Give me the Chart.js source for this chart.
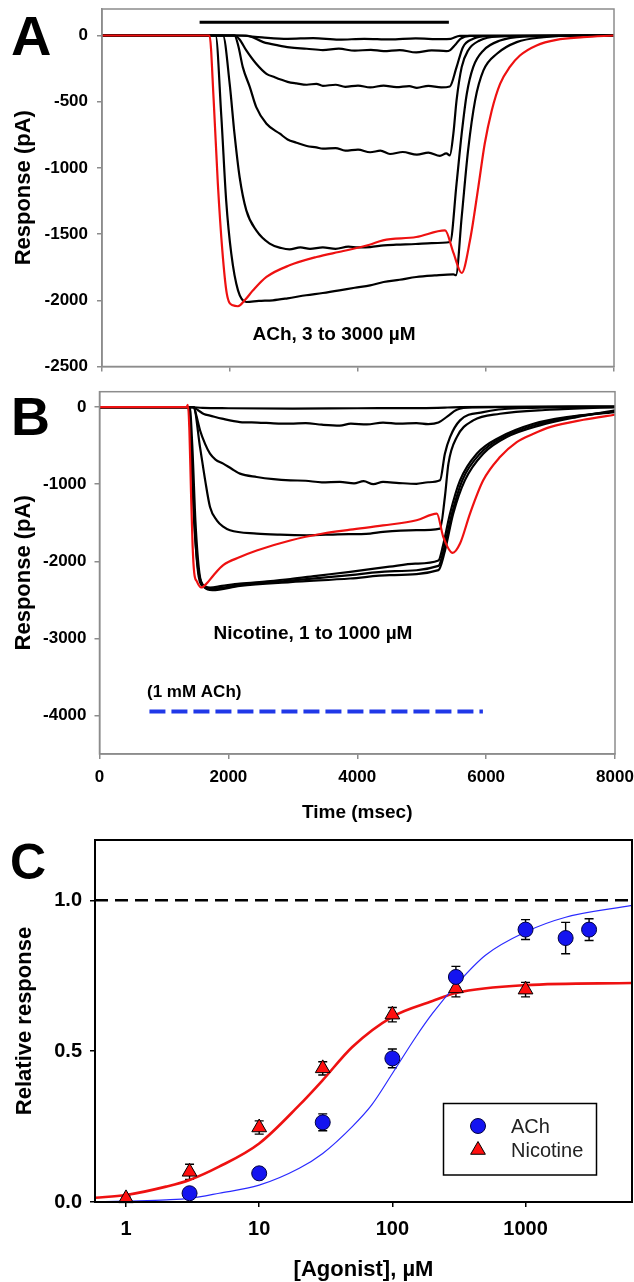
<!DOCTYPE html>
<html>
<head>
<meta charset="utf-8">
<script src="https://cdn.jsdelivr.net/npm/chart.js@4.4.0/dist/chart.umd.min.js"></script>
<style>
  html, body { margin: 0; padding: 0; background: #fff; }
  #page { position: relative; width: 634px; height: 1282px; overflow: hidden; }
  canvas { position: absolute; left: 0; }
</style>
</head>
<body>
<div id="page">
  <canvas id="chartA" width="634" height="380" style="top:0px"></canvas>
  <canvas id="chartB" width="634" height="450" style="top:380px"></canvas>
  <canvas id="chartC" width="634" height="452" style="top:830px"></canvas>
</div>
<script>
/* ---------- data ---------- */

// shared time axis (msec)
const timeTicks = [0, 2000, 4000, 6000, 8000];

// Panel A: ACh 3 to 3000 uM, traces as [msec, pA]
const aYTicks = [0, -500, -1000, -1500, -2000, -2500];
const aBar = [[1525, 100], [5420, 100]];
const aTrace3 = [[0,0],[2100,0],[2500,-15],[2900,-25],[3300,-20],[3700,-32],[4100,-25],[4500,-30],[4900,-22],[5300,-28],[5450,-25],[5590,-3],[8000,0]];
const aTrace10 = [[0,0],[2250,0],[2520,-50],[2750,-75],[2930,-90],[3200,-100],[3450,-110],[3700,-100],[3950,-115],[4200,-108],[4400,-118],[4650,-110],[4910,-128],[5150,-112],[5380,-118],[5440,-110],[5520,-70],[5600,-25],[5750,-3],[8000,0]];
const aTrace30 = [[0,0],[2070,0],[2150,-30],[2255,-113],[2410,-214],[2570,-290],[2700,-315],[2780,-330],[2900,-350],[3040,-362],[3200,-372],[3350,-365],[3450,-380],[3650,-372],[3800,-388],[4000,-378],[4190,-392],[4400,-378],[4600,-390],[4800,-382],[4920,-395],[5100,-380],[5300,-392],[5435,-385],[5540,-239],[5640,-88],[5800,-25],[6000,-5],[8000,0]];
const aTrace100 = [[0,0],[2070,0],[2130,-80],[2200,-239],[2310,-390],[2410,-541],[2570,-667],[2780,-742],[2900,-785],[3040,-810],[3200,-835],[3350,-845],[3450,-855],[3650,-850],[3800,-870],[4000,-862],[4190,-882],[4350,-870],[4500,-895],[4700,-880],[4920,-900],[5100,-885],[5280,-910],[5380,-890],[5435,-906],[5490,-742],[5540,-490],[5620,-239],[5720,-113],[5900,-38],[6170,-8],[8000,0]];
const aTrace300 = [[0,0],[1890,0],[1995,-365],[2070,-742],[2150,-1069],[2255,-1321],[2410,-1472],[2620,-1572],[2800,-1605],[2930,-1615],[3100,-1600],[3250,-1612],[3450,-1600],[3650,-1612],[3850,-1595],[4000,-1600],[4190,-1598],[4400,-1585],[4600,-1580],[4900,-1575],[5150,-1568],[5440,-1560],[5540,-1119],[5620,-742],[5700,-440],[5800,-239],[5960,-113],[6220,-38],[6580,-8],[8000,0]];
const aTrace1000 = [[0,0],[1775,0],[1865,-616],[1940,-1245],[2020,-1648],[2125,-1925],[2255,-2013],[2450,-2005],[2670,-2000],[2900,-1985],[3190,-1962],[3450,-1945],[3710,-1925],[3950,-1905],[4190,-1887],[4400,-1862],[4650,-1845],[4910,-1824],[5200,-1812],[5490,-1804],[5530,-1811],[5620,-1371],[5720,-868],[5830,-490],[5960,-264],[6170,-138],[6480,-50],[6900,-13],[7400,0],[8000,0]];
const aTrace3000 = [[0,0],[1680,0],[1745,-490],[1810,-1119],[1880,-1623],[1950,-1950],[2045,-2038],[2125,-2045],[2230,-2000],[2360,-1925],[2570,-1824],[2930,-1736],[3350,-1673],[3770,-1628],[4180,-1580],[4390,-1547],[4910,-1522],[5360,-1472],[5490,-1640],[5620,-1794],[5750,-1547],[5880,-1145],[5980,-818],[6090,-566],[6220,-365],[6370,-239],[6530,-151],[6790,-75],[7100,-33],[7520,-13],[8000,0]];

// Panel B: nicotine 1 to 1000 uM
const bYTicks = [0, -1000, -2000, -3000, -4000];
const bAchBar = [[775, -3950], [5950, -3950]];
const bTrace1 = [[0,0],[1400,0],[1600,-10],[2000,-15],[3000,-20],[4000,-15],[5000,-12],[5400,-5],[5600,0],[8000,10]];
const bTrace3 = [[0,0],[1450,0],[1530,-40],[1620,-90],[1715,-110],[1900,-150],[2180,-194],[2450,-200],[2700,-210],[2960,-215],[3200,-208],[3450,-228],[3730,-240],[3900,-215],[4150,-225],[4400,-200],[4650,-215],[4920,-207],[5100,-220],[5260,-200],[5400,-120],[5545,-34],[5800,-5],[8000,5]];
const bTrace10 = [[0,0],[1460,0],[1500,-100],[1560,-300],[1640,-480],[1715,-604],[1800,-680],[1920,-733],[2050,-800],[2180,-863],[2440,-907],[2700,-935],[2960,-950],[3200,-955],[3450,-975],[3730,-970],[3950,-990],[4100,-960],[4250,-1000],[4400,-971],[4650,-985],[4920,-995],[5100,-975],[5285,-950],[5360,-604],[5440,-389],[5595,-172],[5955,-65],[6500,-15],[8000,0]];
const bTrace30 = [[0,0],[1460,0],[1560,-518],[1640,-950],[1715,-1295],[1820,-1468],[1920,-1550],[2025,-1597],[2440,-1640],[2800,-1655],[3215,-1662],[3700,-1650],[4200,-1640],[4400,-1619],[4920,-1597],[5285,-1576],[5360,-1166],[5415,-733],[5545,-389],[5800,-172],[6215,-86],[6990,-34],[8000,0]];
const bTrace100 = [[0,0],[1380,0],[1420,-500],[1470,-1500],[1530,-2100],[1600,-2300],[1715,-2340],[1900,-2320],[2180,-2290],[2600,-2260],[2960,-2230],[3400,-2185],[3890,-2137],[4500,-2070],[4900,-2030],[5260,-1990],[5330,-1800],[5440,-1381],[5595,-950],[5855,-604],[6215,-389],[6735,-215],[7250,-130],[8000,-65]];
const bTrace300 = [[0,0],[1400,0],[1440,-500],[1490,-1500],[1550,-2150],[1630,-2340],[1750,-2375],[2180,-2320],[2960,-2270],[3890,-2223],[4500,-2180],[5260,-2115],[5350,-1900],[5490,-1381],[5670,-950],[5955,-604],[6320,-389],[6835,-237],[7405,-130],[8000,-43]];
const bTrace1000 = [[0,0],[1390,0],[1430,-600],[1480,-1600],[1540,-2200],[1620,-2330],[1750,-2355],[2180,-2305],[2960,-2250],[3890,-2180],[4500,-2130],[5260,-2060],[5340,-1860],[5470,-1381],[5630,-950],[5905,-604],[6265,-389],[6785,-226],[7330,-130],[8000,-55]];
const bTraceRed = [[0,0],[1350,0],[1372,30],[1395,-300],[1420,-1100],[1445,-1800],[1470,-2150],[1510,-2260],[1580,-2340],[1660,-2290],[1770,-2180],[1920,-2050],[2180,-1945],[2440,-1860],[2960,-1730],[3470,-1640],[3890,-1590],[4400,-1535],[4920,-1468],[5235,-1381],[5335,-1684],[5480,-1891],[5595,-1770],[5750,-1381],[5955,-950],[6215,-648],[6475,-453],[6735,-345],[6990,-259],[7510,-164],[8000,-99]];

// Panel C: concentration-response
const cXTicks = [1, 10, 100, 1000];
const cYTicks = [0, 0.5, 1.0];
const achConc = [3, 10, 30, 100, 300, 1000, 2000, 3000];
const achResp = [0.029, 0.095, 0.264, 0.476, 0.746, 0.903, 0.875, 0.903];
const achErr  = [0.010, 0.012, 0.028, 0.031, 0.035, 0.033, 0.052, 0.036];
const nicConc = [1, 3, 10, 30, 100, 300, 1000];
const nicResp = [0.012, 0.100, 0.247, 0.443, 0.621, 0.708, 0.704];
const nicErr  = [0.008, 0.025, 0.022, 0.022, 0.024, 0.028, 0.024];
const achFit = [[0.585,0.0],[1,0.003],[2,0.007],[3,0.012],[5,0.029],[10,0.056],[20,0.112],[30,0.161],[50,0.25],[70,0.322],[100,0.426],[150,0.547],[200,0.625],[300,0.719],[500,0.818],[1000,0.895],[2000,0.944],[6300,0.983]];
const nicFit = [[0.585,0.014],[1,0.023],[2,0.051],[3,0.073],[5,0.117],[10,0.194],[20,0.321],[30,0.404],[50,0.514],[100,0.614],[200,0.666],[300,0.693],[1000,0.719],[6300,0.726]];
const maxLine = [[0.585, 1.0], [6300, 1.0]];

/* ---------- helpers ---------- */
const FONT = "'Liberation Sans', Arial, Helvetica, sans-serif";
const GRAY = '#8c8c8c';
const RED = '#ee1111';

const pts = arr => arr.map(p => ({ x: p[0], y: p[1] }));

// pin an axis to a fixed size so the plot box lands where the figure has it
function fixedSize(size) {
    return function (scale) {
        if (scale.isHorizontal()) scale.height = size; else scale.width = size;
        scale.paddingLeft = scale.paddingRight = scale.paddingTop = scale.paddingBottom = 0;
    };
}
function useTicks(values) {
    return function (scale) { scale.ticks = values.map(v => ({ value: v })); };
}

function traceLine(trace, color, order) {
    return {
        data: pts(trace), borderColor: color, borderWidth: 2.2,
        pointRadius: 0, cubicInterpolationMode: 'monotone', fill: false, order: order
    };
}

function frame(color, width) {
    return {
        id: 'frame',
        afterDatasetsDraw(chart) {
            const a = chart.chartArea, ctx = chart.ctx;
            ctx.save();
            ctx.strokeStyle = color;
            ctx.lineWidth = width;
            ctx.strokeRect(a.left, a.top, a.right - a.left, a.bottom - a.top);
            ctx.restore();
        }
    };
}

function texts(items) {
    return {
        id: 'texts',
        afterDraw(chart) {
            const ctx = chart.ctx;
            ctx.save();
            ctx.fillStyle = '#000';
            ctx.textBaseline = 'alphabetic';
            items.forEach(t => {
                ctx.font = t.font;
                ctx.textAlign = t.align || 'left';
                ctx.fillText(t.text, t.x, t.y);
            });
            ctx.restore();
        }
    };
}

function traceAxes(opts) {
    const tickFont = { family: FONT, size: 17, weight: 'bold' };
    return {
        x: {
            type: 'linear', min: 0, max: 8000,
            afterBuildTicks: useTicks(timeTicks),
            afterFit: fixedSize(opts.xHeight),
            border: { display: true, color: GRAY, width: 1.5 },
            grid: { drawOnChartArea: false, drawTicks: true, tickLength: 5, color: GRAY, lineWidth: 1.5 },
            ticks: {
                display: true, autoSkip: false, maxRotation: 0, padding: 8.5,
                color: opts.xLabels ? '#000' : 'rgba(0,0,0,0)', font: tickFont,
                callback: v => String(v)
            },
            title: opts.xTitle ? {
                display: true, text: opts.xTitle, color: '#000',
                font: { family: FONT, size: 19, weight: 'bold' }, padding: { top: 0, bottom: 5.5 }
            } : { display: false }
        },
        y: {
            min: opts.yMin, max: 200,
            afterBuildTicks: useTicks(opts.yTicks),
            afterFit: fixedSize(opts.left),
            border: { display: true, color: GRAY, width: 1.5 },
            grid: { drawOnChartArea: false, drawTicks: true, tickLength: 5, color: GRAY, lineWidth: 1.5 },
            ticks: { color: '#000', font: tickFont, padding: opts.tickPad, callback: v => String(v) },
            title: {
                display: true, text: 'Response (pA)', color: '#000',
                font: { family: FONT, size: 22, weight: 'bold' }, padding: { top: 11, bottom: 0 }
            }
        }
    };
}

const common = {
    responsive: false, animation: false, devicePixelRatio: 1, events: [],
    plugins: { legend: { display: false }, tooltip: { enabled: false } }
};

/* ---------- panel A ---------- */
new Chart(document.getElementById('chartA'), {
    type: 'line',
    data: {
        datasets: [
            traceLine(aTrace3000, RED, 0),
            traceLine(aTrace3, '#000', 1),
            traceLine(aTrace10, '#000', 1),
            traceLine(aTrace30, '#000', 1),
            traceLine(aTrace100, '#000', 1),
            traceLine(aTrace300, '#000', 1),
            traceLine(aTrace1000, '#000', 1),
            { data: pts(aBar), borderColor: '#000', borderWidth: 3, pointRadius: 0, order: 2 }
        ]
    },
    options: Object.assign({}, common, {
        layout: { autoPadding: false, padding: { left: 0, top: 9, right: 20, bottom: 0 } },
        scales: traceAxes({ xHeight: 13.5, xLabels: false, yMin: -2500, yTicks: aYTicks, left: 102, tickPad: 9 })
    }),
    plugins: [frame(GRAY, 1.5), texts([
        { text: 'A', x: 11, y: 55, font: 'bold 56px ' + FONT },
        { text: 'ACh, 3 to 3000 \u00b5M', x: 334, y: 340, align: 'center', font: 'bold 19px ' + FONT }
    ])]
});

/* ---------- panel B ---------- */
new Chart(document.getElementById('chartB'), {
    type: 'line',
    data: {
        datasets: [
            traceLine(bTraceRed, RED, 0),
            traceLine(bTrace1, '#000', 1),
            traceLine(bTrace3, '#000', 1),
            traceLine(bTrace10, '#000', 1),
            traceLine(bTrace30, '#000', 1),
            traceLine(bTrace100, '#000', 1),
            traceLine(bTrace300, '#000', 1),
            traceLine(bTrace1000, '#000', 1),
            { data: pts(bAchBar), borderColor: '#2038e8', borderWidth: 4, borderDash: [16, 6], pointRadius: 0, order: 2 }
        ]
    },
    options: Object.assign({}, common, {
        layout: { autoPadding: false, padding: { left: 0, top: 11.7, right: 19, bottom: 0 } },
        scales: traceAxes({ xHeight: 76, xLabels: true, xTitle: 'Time (msec)', yMin: -4500, yTicks: bYTicks, left: 99.5, tickPad: 8 })
    }),
    plugins: [frame(GRAY, 1.5), texts([
        { text: 'B', x: 11, y: 55, font: 'bold 54px ' + FONT },
        { text: 'Nicotine, 1 to 1000 \u00b5M', x: 313, y: 259, align: 'center', font: 'bold 19px ' + FONT },
        { text: '(1 mM ACh)', x: 147, y: 317, font: 'bold 17px ' + FONT }
    ])]
});

/* ---------- panel C ---------- */
const errorBars = {
    id: 'errorBars',
    beforeDatasetsDraw(chart) {
        const ctx = chart.ctx, xs = chart.scales.x, ys = chart.scales.y;
        ctx.save();
        ctx.strokeStyle = '#000';
        ctx.lineWidth = 1.4;
        chart.data.datasets.forEach(ds => {
            if (!ds.errors) return;
            ds.data.forEach((p, i) => {
                const px = xs.getPixelForValue(p.x);
                const top = ys.getPixelForValue(p.y + ds.errors[i]);
                const bot = ys.getPixelForValue(p.y - ds.errors[i]);
                ctx.beginPath();
                ctx.moveTo(px, top); ctx.lineTo(px, bot);
                ctx.moveTo(px - 4.5, top); ctx.lineTo(px + 4.5, top);
                ctx.moveTo(px - 4.5, bot); ctx.lineTo(px + 4.5, bot);
                ctx.stroke();
            });
        });
        ctx.restore();
    }
};

function marker(ctx, style, x, y, r) {
    ctx.beginPath();
    if (style === 'circle') {
        ctx.arc(x, y, r, 0, Math.PI * 2);
    } else {
        ctx.moveTo(x, y - r);
        ctx.lineTo(x + r * Math.cos(Math.PI / 6), y + r / 2);
        ctx.lineTo(x - r * Math.cos(Math.PI / 6), y + r / 2);
        ctx.closePath();
    }
    ctx.fill();
    ctx.stroke();
}

const boxLegend = {
    id: 'boxLegend',
    afterDraw(chart) {
        const ctx = chart.ctx;
        const rows = chart.data.datasets.filter(d => d.inLegend);
        ctx.save();
        ctx.strokeStyle = '#000';
        ctx.lineWidth = 1.5;
        ctx.strokeRect(443.5, 273.5, 153, 71.5);
        ctx.font = '20px ' + FONT;
        ctx.textBaseline = 'middle';
        rows.forEach((d, i) => {
            const y = 296 + i * 24;
            ctx.fillStyle = d.backgroundColor;
            ctx.strokeStyle = d.borderColor;
            ctx.lineWidth = 1;
            marker(ctx, d.pointStyle, 478, y, d.pointRadius);
            ctx.fillStyle = '#222';
            ctx.fillText(d.label, 511, y + 1);
        });
        ctx.restore();
    }
};

const cTickFont = { family: FONT, size: 20, weight: 'bold' };

new Chart(document.getElementById('chartC'), {
    type: 'line',
    data: {
        datasets: [
            { data: pts(maxLine), borderColor: '#000', borderWidth: 2.5, borderDash: [13, 7], pointRadius: 0, order: 3 },
            { data: pts(achFit), borderColor: '#2a2aff', borderWidth: 1.2, pointRadius: 0, cubicInterpolationMode: 'monotone', order: 2 },
            { data: pts(nicFit), borderColor: RED, borderWidth: 2.6, pointRadius: 0, cubicInterpolationMode: 'monotone', order: 2 },
            {
                label: 'ACh', inLegend: true, showLine: false, clip: false, order: 0,
                data: achConc.map((c, i) => ({ x: c, y: achResp[i] })), errors: achErr,
                pointStyle: 'circle', pointRadius: 7.5, backgroundColor: '#1414f0', borderColor: '#000040', borderWidth: 1,
                pointBackgroundColor: '#1414f0', pointBorderColor: '#000040', pointBorderWidth: 1
            },
            {
                label: 'Nicotine', inLegend: true, showLine: false, clip: false, order: 0,
                data: nicConc.map((c, i) => ({ x: c, y: nicResp[i] })), errors: nicErr,
                pointStyle: 'triangle', pointRadius: 8.5, backgroundColor: '#ff1010', borderColor: '#000', borderWidth: 1,
                pointBackgroundColor: '#ff1010', pointBorderColor: '#000', pointBorderWidth: 1
            }
        ]
    },
    options: Object.assign({}, common, {
        layout: { autoPadding: false, padding: { left: 0, top: 10, right: 2, bottom: 0 } },
        scales: {
            x: {
                type: 'logarithmic', min: 0.585, max: 6300,
                afterBuildTicks: useTicks(cXTicks),
                afterFit: fixedSize(80),
                border: { display: true, color: '#000', width: 2 },
                grid: { drawOnChartArea: false, drawTicks: true, tickLength: 5, color: '#000', lineWidth: 1.5 },
                ticks: { color: '#000', font: cTickFont, padding: 10.5, autoSkip: false, maxRotation: 0, callback: v => String(v) },
                title: {
                    display: true, text: '[Agonist], \u00b5M', color: '#000',
                    font: { family: FONT, size: 22, weight: 'bold' }, padding: { top: 0, bottom: -1.5 }
                }
            },
            y: {
                min: 0, max: 1.2,
                afterBuildTicks: useTicks(cYTicks),
                afterFit: fixedSize(95),
                border: { display: true, color: '#000', width: 2 },
                grid: { drawOnChartArea: false, drawTicks: true, tickLength: 5, color: '#000', lineWidth: 1.5 },
                ticks: { color: '#000', font: cTickFont, padding: 8, callback: v => Number(v).toFixed(1) },
                title: {
                    display: true, text: 'Relative response', color: '#000',
                    font: { family: FONT, size: 22, weight: 'bold' }, padding: { top: 12, bottom: 0 }
                }
            }
        }
    }),
    plugins: [errorBars, frame('#000', 2), boxLegend, texts([
        { text: 'C', x: 10, y: 49, font: 'bold 50px ' + FONT }
    ])]
});
</script>
</body>
</html>
